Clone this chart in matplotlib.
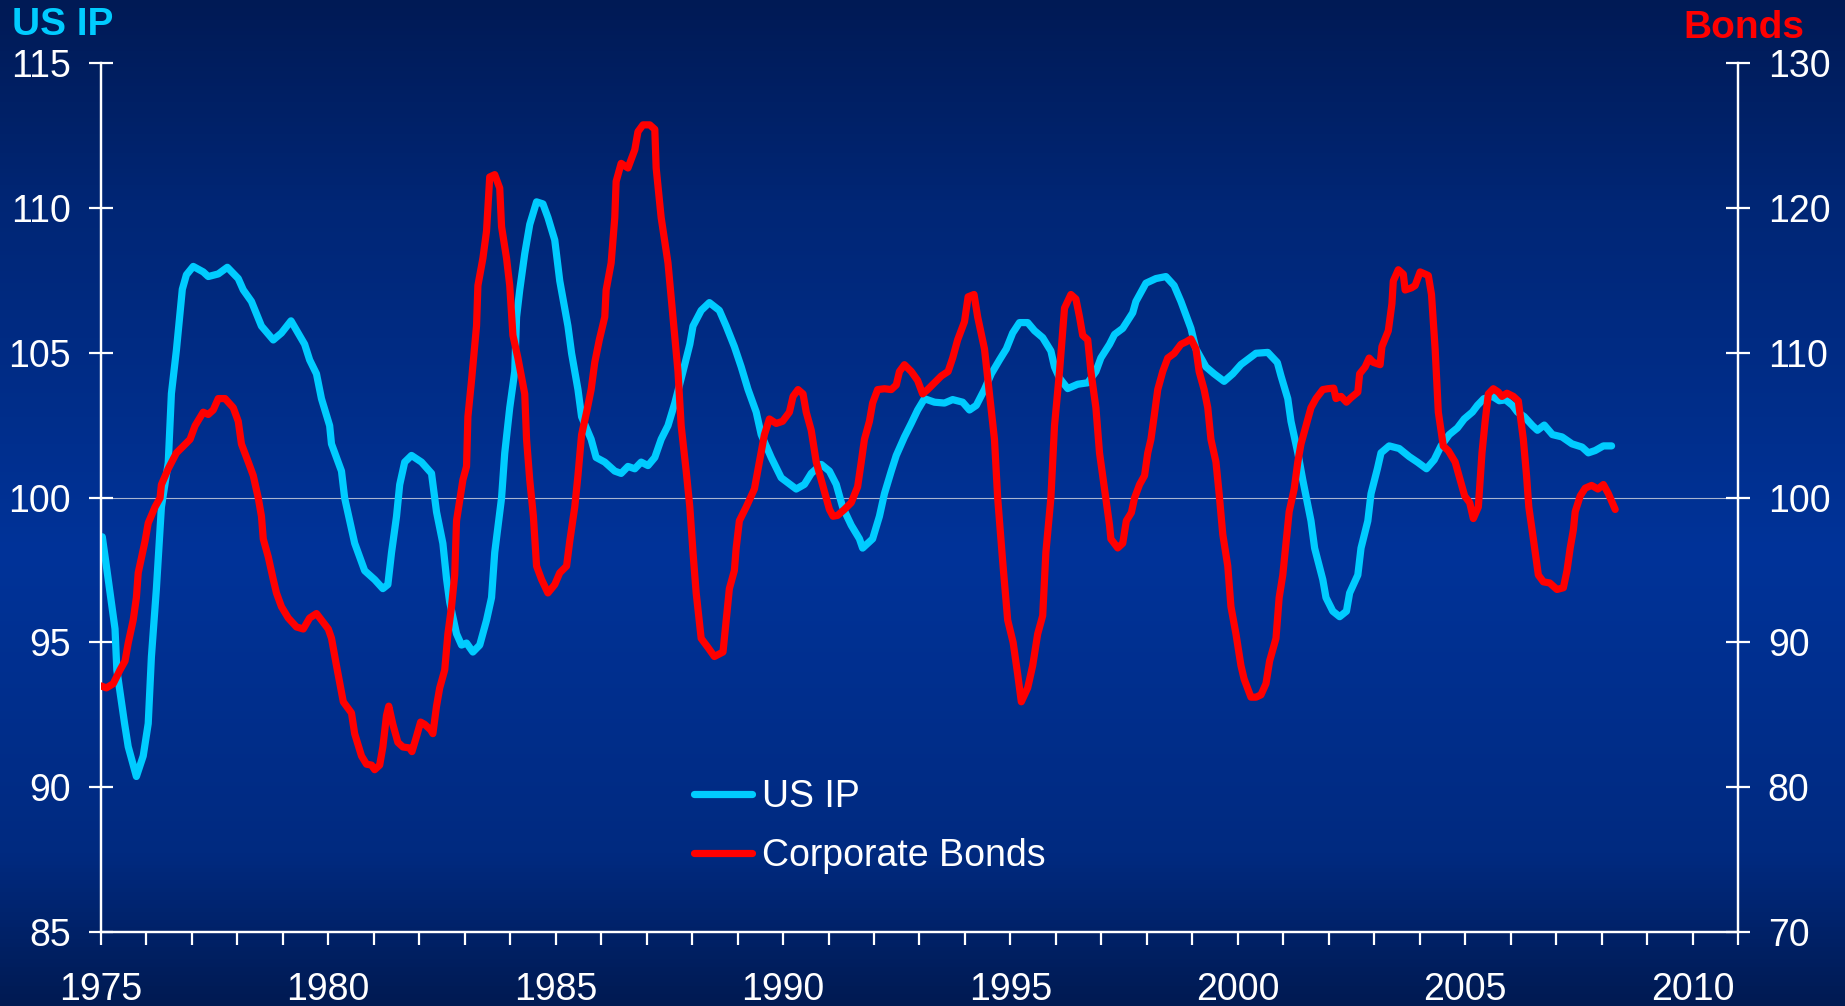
import numpy as np
import matplotlib
matplotlib.use("Agg")
import matplotlib.pyplot as plt
from matplotlib.colors import LinearSegmentedColormap
from matplotlib.ticker import MultipleLocator

plt.rcParams['font.family'] = ['Liberation Sans', 'DejaVu Sans']

# US IP (left axis)
ip_year = [1975.03, 1975.12, 1975.31, 1975.35, 1975.52, 1975.60, 1975.78, 1975.93, 1976.04, 1976.11,
           1976.22, 1976.33, 1976.48, 1976.55, 1976.66, 1976.79, 1976.88, 1977.03, 1977.25, 1977.36,
           1977.58, 1977.78, 1978.02, 1978.13, 1978.31, 1978.53, 1978.79, 1978.97, 1979.18, 1979.48,
           1979.59, 1979.74, 1979.85, 1980.03, 1980.07, 1980.29, 1980.36, 1980.58, 1980.80, 1981.02,
           1981.20, 1981.31, 1981.39, 1981.50, 1981.57, 1981.68, 1981.83, 1982.05, 1982.27, 1982.38,
           1982.52, 1982.60, 1982.67, 1982.82, 1982.93, 1983.04, 1983.18, 1983.33, 1983.48, 1983.59,
           1983.66, 1983.81, 1983.88, 1983.99, 1984.10, 1984.14, 1984.21, 1984.32, 1984.43, 1984.58,
           1984.72, 1984.83, 1984.98, 1985.09, 1985.27, 1985.35, 1985.49, 1985.57, 1985.78, 1985.89,
           1986.08, 1986.30, 1986.44, 1986.59, 1986.74, 1986.88, 1987.03, 1987.18, 1987.32, 1987.47,
           1987.62, 1987.80, 1987.95, 1988.02, 1988.20, 1988.38, 1988.60, 1988.75, 1988.93, 1989.08,
           1989.23, 1989.41, 1989.52, 1989.74, 1989.96, 1990.29, 1990.47, 1990.62, 1990.84, 1991.02,
           1991.17, 1991.31, 1991.50, 1991.68, 1991.75, 1991.97, 1992.12, 1992.23, 1992.38, 1992.49,
           1992.67, 1992.82, 1992.96, 1993.11, 1993.33, 1993.55, 1993.73, 1993.95, 1994.10, 1994.25,
           1994.43, 1994.58, 1994.76, 1994.91, 1995.05, 1995.20, 1995.38, 1995.53, 1995.71, 1995.89,
           1995.97, 1996.08, 1996.26, 1996.48, 1996.70, 1996.88, 1996.99, 1997.18, 1997.29, 1997.47,
           1997.69, 1997.76, 1997.98, 1998.20, 1998.42, 1998.60, 1998.75, 1998.86, 1998.97, 1999.08,
           1999.30, 1999.48, 1999.70, 1999.89, 2000.07, 2000.40, 2000.66, 2000.87, 2000.95, 2001.10,
           2001.17, 2001.32, 2001.43, 2001.61, 2001.69, 2001.87, 2001.94, 2002.09, 2002.24, 2002.39,
           2002.46, 2002.64, 2002.71, 2002.86, 2002.93, 2003.07, 2003.15, 2003.33, 2003.55, 2003.77,
           2003.95, 2004.15, 2004.32, 2004.47, 2004.65, 2004.83, 2004.98, 2005.16, 2005.27, 2005.41,
           2005.60, 2005.75, 2005.89, 2006.04, 2006.15, 2006.30, 2006.48, 2006.59, 2006.74, 2006.92,
           2007.13, 2007.35, 2007.57, 2007.71, 2007.86, 2008.04, 2008.22]
ip_value = [98.65, 97.64, 95.47, 94.05, 92.2, 91.4, 90.37, 91.08, 92.2, 94.5,
            96.86, 99.68, 101.2, 103.6, 105.1, 107.2, 107.7, 107.99, 107.8, 107.64,
            107.73, 107.96, 107.57, 107.18, 106.78, 105.93, 105.45, 105.69, 106.11, 105.3,
            104.76, 104.28, 103.42, 102.49, 101.86, 100.92, 99.99, 98.43, 97.48, 97.17,
            96.86, 97.0, 98.1, 99.35, 100.45, 101.23, 101.46, 101.23, 100.84, 99.51,
            98.42, 97.2, 96.39, 95.3, 94.91, 94.98, 94.67, 94.91, 95.77, 96.55,
            98.11, 99.99, 101.54, 103.11, 104.36, 106.24, 107.18, 108.43, 109.44, 110.22,
            110.15, 109.68, 108.9, 107.49, 105.93, 104.99, 103.74, 102.8, 102.02, 101.39,
            101.23, 100.92, 100.84, 101.08, 101.0, 101.23, 101.11, 101.39, 102.02, 102.49,
            103.27, 104.36, 105.3, 105.93, 106.47, 106.74, 106.47, 105.93, 105.22, 104.52,
            103.74, 102.96, 102.18, 101.39, 100.69, 100.3, 100.46, 100.84, 101.15, 100.92,
            100.46, 99.68, 99.05, 98.58, 98.26, 98.58, 99.36, 100.14, 100.92, 101.46,
            102.1, 102.57, 103.03, 103.42, 103.3, 103.27, 103.39, 103.3, 103.03, 103.19,
            103.74, 104.28, 104.76, 105.14, 105.69, 106.05, 106.05, 105.77, 105.53, 105.07,
            104.52, 104.13, 103.77, 103.92, 103.97, 104.36, 104.83, 105.3, 105.64, 105.85,
            106.39, 106.78, 107.41, 107.57, 107.64, 107.33, 106.78, 106.31, 105.85, 105.14,
            104.52, 104.28, 104.02, 104.28, 104.6, 104.99, 105.02, 104.67, 104.21, 103.42,
            102.64, 101.55, 100.61, 99.2, 98.26, 97.17, 96.55, 96.08, 95.89, 96.08,
            96.71, 97.33, 98.26, 99.2, 100.14, 101.0, 101.55, 101.79, 101.7, 101.42,
            101.23, 101.0, 101.31, 101.79, 102.18, 102.41, 102.72, 102.96, 103.19, 103.42,
            103.5, 103.35, 103.38, 103.19, 102.96, 102.8, 102.49, 102.33, 102.51, 102.18,
            102.1, 101.86, 101.75, 101.55, 101.63, 101.79, 101.79]

# Corporate Bonds (right axis)
bond_year = [1975.00, 1975.12, 1975.27, 1975.42, 1975.53, 1975.60, 1975.71, 1975.78, 1975.82, 1975.97,
             1976.04, 1976.19, 1976.30, 1976.33, 1976.48, 1976.66, 1976.96, 1977.07, 1977.25, 1977.36,
             1977.47, 1977.58, 1977.73, 1977.91, 1978.02, 1978.09, 1978.24, 1978.35, 1978.46, 1978.53,
             1978.57, 1978.68, 1978.79, 1978.86, 1978.97, 1979.12, 1979.30, 1979.45, 1979.59, 1979.74,
             1979.85, 1980.00, 1980.07, 1980.18, 1980.33, 1980.51, 1980.58, 1980.73, 1980.84, 1980.95,
             1981.02, 1981.13, 1981.20, 1981.28, 1981.33, 1981.42, 1981.53, 1981.64, 1981.79, 1981.84,
             1981.93, 1982.03, 1982.12, 1982.25, 1982.30, 1982.38, 1982.45, 1982.56, 1982.63, 1982.71,
             1982.78, 1982.82, 1982.96, 1983.04, 1983.07, 1983.15, 1983.26, 1983.29, 1983.40, 1983.48,
             1983.55, 1983.66, 1983.77, 1983.81, 1983.92, 1983.99, 1984.06, 1984.17, 1984.32, 1984.36,
             1984.43, 1984.51, 1984.58, 1984.69, 1984.83, 1984.98, 1985.09, 1985.24, 1985.31, 1985.42,
             1985.49, 1985.57, 1985.68, 1985.78, 1985.86, 1985.96, 1986.08, 1986.11, 1986.22, 1986.30,
             1986.33, 1986.44, 1986.59, 1986.74, 1986.81, 1986.92, 1987.07, 1987.18, 1987.21, 1987.32,
             1987.47, 1987.58, 1987.69, 1987.76, 1987.87, 1987.95, 1988.02, 1988.09, 1988.20, 1988.35,
             1988.49, 1988.68, 1988.75, 1988.82, 1988.93, 1988.97, 1989.04, 1989.19, 1989.37, 1989.48,
             1989.59, 1989.70, 1989.85, 1989.99, 1990.14, 1990.22, 1990.33, 1990.44, 1990.51, 1990.62,
             1990.73, 1990.84, 1990.95, 1991.02, 1991.10, 1991.20, 1991.35, 1991.50, 1991.64, 1991.72,
             1991.79, 1991.90, 1991.97, 1992.08, 1992.23, 1992.38, 1992.49, 1992.56, 1992.67, 1992.82,
             1992.96, 1993.07, 1993.18, 1993.33, 1993.48, 1993.63, 1993.73, 1993.84, 1993.99, 1994.07,
             1994.20, 1994.28, 1994.43, 1994.54, 1994.65, 1994.72, 1994.83, 1994.94, 1995.06, 1995.16,
             1995.24, 1995.38, 1995.49, 1995.60, 1995.71, 1995.78, 1995.89, 1995.97, 1996.08, 1996.19,
             1996.33, 1996.44, 1996.52, 1996.59, 1996.70, 1996.77, 1996.88, 1996.96, 1997.07, 1997.18,
             1997.21, 1997.36, 1997.47, 1997.55, 1997.66, 1997.73, 1997.84, 1997.95, 1998.02, 1998.09,
             1998.16, 1998.24, 1998.35, 1998.46, 1998.60, 1998.75, 1998.86, 1998.97, 1999.08, 1999.15,
             1999.26, 1999.34, 1999.41, 1999.52, 1999.59, 1999.67, 1999.78, 1999.85, 1999.96, 2000.07,
             2000.14, 2000.29, 2000.40, 2000.51, 2000.62, 2000.70, 2000.84, 2000.91, 2000.99, 2001.06,
             2001.13, 2001.24, 2001.32, 2001.39, 2001.50, 2001.61, 2001.72, 2001.87, 2001.98, 2002.11,
             2002.16, 2002.27, 2002.39, 2002.49, 2002.64, 2002.68, 2002.80, 2002.89, 2002.98, 2003.13,
             2003.17, 2003.31, 2003.39, 2003.42, 2003.53, 2003.64, 2003.68, 2003.82, 2003.90, 2004.01,
             2004.19, 2004.26, 2004.34, 2004.41, 2004.52, 2004.63, 2004.78, 2004.89, 2004.99, 2005.10,
             2005.18, 2005.29, 2005.37, 2005.44, 2005.51, 2005.62, 2005.73, 2005.81, 2005.92, 2006.06,
             2006.17, 2006.28, 2006.35, 2006.40, 2006.50, 2006.61, 2006.72, 2006.86, 2007.02, 2007.16,
             2007.24, 2007.31, 2007.38, 2007.42, 2007.53, 2007.64, 2007.78, 2007.92, 2008.04, 2008.15,
             2008.30]
bond_value = [87.0, 86.86, 87.15, 88.1, 88.72, 89.96, 91.55, 93.1, 94.81, 97.0,
              98.25, 99.36, 99.98, 100.9, 102.0, 103.09, 104.03, 104.97, 105.91, 105.75,
              106.06, 106.85, 106.85, 106.22, 105.28, 103.71, 102.47, 101.53, 99.98, 98.72,
              97.15, 95.91, 94.35, 93.42, 92.47, 91.69, 91.07, 90.93, 91.69, 92.0,
              91.55, 90.93, 90.3, 88.4, 85.9, 85.13, 83.7, 82.16, 81.59, 81.53,
              81.21, 81.53, 82.78, 84.96, 85.6, 84.34, 83.1, 82.78, 82.71, 82.46,
              83.4, 84.5, 84.34, 83.96, 83.7, 85.6, 86.86, 88.1, 90.59, 92.47,
              94.66, 98.41, 101.23, 102.16, 105.6, 108.1, 111.87, 114.66, 116.54, 118.43,
              122.16, 122.32, 121.39, 118.73, 116.54, 114.66, 111.22, 109.65, 107.17, 104.03,
              101.23, 98.72, 95.28, 94.35, 93.42, 94.0, 94.81, 95.28, 97.0, 99.36,
              101.53, 104.35, 105.91, 107.47, 109.35, 110.91, 112.49, 114.35, 116.22, 119.35,
              121.85, 123.1, 122.78, 124.04, 125.29, 125.76, 125.76, 125.45, 122.78, 119.35,
              116.22, 112.49, 108.72, 104.97, 101.85, 99.36, 96.22, 93.42, 90.28, 89.65,
              89.03, 89.34, 91.55, 93.72, 94.97, 96.53, 98.41, 99.36, 100.6, 102.47,
              104.35, 105.44, 105.13, 105.28, 105.91, 107.0, 107.47, 107.17, 105.91, 104.66,
              102.47, 101.23, 99.98, 99.19, 98.72, 98.78, 99.19, 99.66, 100.75, 102.47,
              104.03, 105.28, 106.54, 107.47, 107.53, 107.47, 107.79, 108.72, 109.19, 108.72,
              108.1, 107.17, 107.47, 107.94, 108.41, 108.72, 109.65, 110.91, 112.16, 113.88,
              114.04, 112.49, 110.28, 107.17, 104.03, 99.98, 95.6, 91.55, 90.0, 87.8,
              85.9, 86.86, 88.4, 90.59, 91.85, 96.22, 99.98, 104.97, 108.72, 113.1,
              114.04, 113.73, 112.49, 111.22, 110.91, 108.72, 106.22, 103.09, 100.6, 98.1,
              97.15, 96.53, 96.85, 98.41, 98.97, 99.98, 100.91, 101.53, 103.09, 104.03,
              105.6, 107.47, 108.72, 109.65, 109.97, 110.6, 110.76, 110.97, 110.28, 108.72,
              107.47, 106.22, 104.03, 102.47, 100.28, 97.47, 95.28, 92.47, 90.59, 88.4,
              87.47, 86.22, 86.22, 86.38, 87.15, 88.72, 90.28, 93.1, 94.66, 96.85,
              99.03, 100.6, 102.47, 103.71, 104.97, 106.22, 106.85, 107.47, 107.53, 107.57,
              106.85, 107.0, 106.6, 106.91, 107.3, 108.56, 109.03, 109.65, 109.35, 109.19,
              110.44, 111.53, 113.41, 114.97, 115.75, 115.44, 114.35, 114.5, 114.66, 115.6,
              115.35, 114.04, 110.28, 105.91, 103.57, 103.25, 102.47, 101.23, 100.12, 99.66,
              98.56, 99.36, 103.09, 105.28, 107.17, 107.53, 107.3, 107.0, 107.22, 107.0,
              106.68, 104.03, 101.53, 99.36, 97.15, 94.66, 94.19, 94.11, 93.66, 93.78,
              94.97, 96.53, 97.78, 99.03, 100.12, 100.66, 100.85, 100.6, 100.91, 100.28,
              99.19]

year_labels = [1975, 1980, 1985, 1990, 1995, 2000, 2005, 2010]
left_ticks = [85, 90, 95, 100, 105, 110, 115]
right_ticks = [70, 80, 90, 100, 110, 120, 130]

CYAN = '#00CCFF'
RED = '#FF0000'

fig = plt.figure(figsize=(18.45, 10.06), dpi=100)

# background gradient
bg = fig.add_axes([0, 0, 1, 1])
bg_cmap = LinearSegmentedColormap.from_list(
    'bg', [(0.0, '#001a55'), (0.2, '#002675'), (0.55, '#003399'),
           (0.85, '#002a80'), (1.0, '#001a52')])
grad = np.linspace(0, 1, 256).reshape(-1, 1)
bg.imshow(grad, aspect='auto', cmap=bg_cmap, extent=[0, 1, 0, 1], origin='upper')
bg.axis('off')

ax = fig.add_axes([0.0547, 0.0736, 0.8873, 0.8633])
ax.set_facecolor('none')
ax2 = ax.twinx()
ax2.set_facecolor('none')

ax.axhline(100, color='#a8b4d0', lw=0.8, zorder=1)
l1, = ax.plot(ip_year, ip_value, color=CYAN, lw=5.2, solid_joinstyle='round',
              solid_capstyle='round', label='US IP', zorder=3)
l2, = ax2.plot(bond_year, bond_value, color=RED, lw=5.2, solid_joinstyle='round',
               solid_capstyle='round', label='Corporate Bonds', zorder=3)

ax.set_xlim(1975, 2011)
ax.set_ylim(85, 115)
ax2.set_ylim(70, 130)

ax.xaxis.set_major_locator(plt.FixedLocator(year_labels))
ax.xaxis.set_minor_locator(MultipleLocator(1))
ax.set_yticks(left_ticks)
ax2.set_yticks(right_ticks)

for a in (ax, ax2):
    for s in a.spines.values():
        s.set_color('white')
        s.set_linewidth(1.6)
    a.spines['top'].set_visible(False)

ax.tick_params(axis='x', which='both', direction='out', length=9, width=1.6,
               color='white', labelcolor='white', labelsize=27, pad=20)
ax.tick_params(axis='y', direction='inout', length=17, width=1.6,
               color='white', labelcolor='white', labelsize=27, pad=13)
ax2.tick_params(axis='y', direction='inout', length=17, width=1.6,
                color='white', labelcolor='white', labelsize=27, pad=13)

fig.text(12 / 1845, 1 - 35 / 1006, 'US IP', color=CYAN, fontsize=28,
         fontweight='bold', ha='left', va='baseline')
fig.text(1804 / 1845, 1 - 38 / 1006, 'Bonds', color=RED, fontsize=28,
         fontweight='bold', ha='right', va='baseline')

leg = ax2.legend(handles=[l1, l2], loc='upper left',
                 bbox_to_anchor=(694 / 1845, 1 - 779 / 1006),
                 bbox_transform=fig.transFigure, frameon=False, fontsize=27,
                 handlelength=1.55, handletextpad=0.25, labelspacing=0.62,
                 borderpad=0, borderaxespad=0)
for t in leg.get_texts():
    t.set_color('white')

fig.savefig('out.png', dpi=100)
